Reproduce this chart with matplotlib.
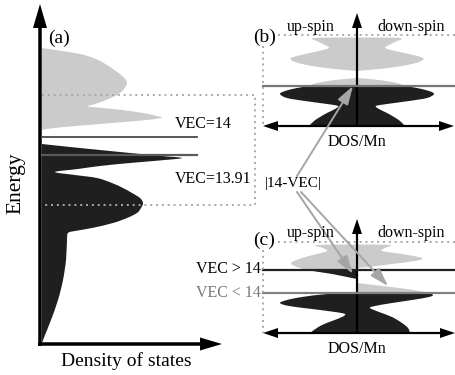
import numpy as np
import matplotlib
matplotlib.use("Agg")
import matplotlib.pyplot as plt
from matplotlib.path import Path
from matplotlib.patches import PathPatch

plt.rcParams["font.family"] = "serif"
plt.rcParams["font.serif"] = ["Liberation Serif", "DejaVu Serif"]

LIGHT = "#cbcbcb"
DARK = "#1f1f1f"
DOT = "#a8a8a8"

# ---- schematic DOS profiles (energy above panel baseline, DOS width) ----
# panel (a): total DOS
a_light_E = [296, 290, 284, 277, 269, 262, 255, 249, 244, 240, 237.5, 236, 234, 231, 228, 226.5, 225, 223, 221, 219, 217, 215, 214]
a_light_D = [0, 38, 56, 68, 79, 85, 82, 75, 64, 53, 46, 61, 80, 101, 115, 120, 113, 94, 70, 46, 22, 5, 0]
a_dark_E = [200, 197, 194, 191, 188, 186, 184, 181, 178, 175, 172, 169, 166, 161, 156, 151, 146, 141, 136, 131,
            126, 121, 116, 113, 111, 104, 84, 64, 44, 24, 9, 1]
a_dark_D = [0, 28, 58, 88, 120, 140, 123, 88, 58, 36, 13, 33, 55, 70, 81, 90, 98, 101, 99, 95,
            85, 71, 50, 33, 26, 25, 24, 21, 16, 9, 3, 0]

# panel (b): spin-resolved, symmetric
b_light_E = [88.5, 88, 84, 81, 78, 75, 72, 68, 64, 60, 57, 55, 48, 46, 43, 40]
b_light_W = [0, 43, 38, 32, 28, 38, 52, 66, 62, 45, 22, 0, 0, 22, 40, 48]
b_dark_E = [40, 38, 35, 32, 28, 25, 22, 20, 17, 13, 9, 5, 0]
b_dark_W = [48, 60, 72, 77, 70, 52, 30, 19, 22, 30, 37, 43, 48]

# panel (c): up-spin (left) and down-spin (right)
c_up_light_E = [88.5, 88, 85, 82, 79, 75, 70, 66, 63]
c_up_light_W = [0, 40, 34, 30, 40, 55, 66, 60, 50]
c_up_dark_E = [63, 61, 59, 56, 54, 41, 39, 36, 33, 30, 27, 24, 21, 19, 16, 12, 7, 0]
c_up_dark_W = [50, 38, 25, 10, 0, 0, 30, 55, 70, 77, 68, 45, 22, 12, 15, 25, 37, 47]
c_dn_light_E = [88.5, 88, 85, 82, 79, 75, 72, 69, 66, 65, 50, 47, 44, 41, 40]
c_dn_light_W = [0, 33, 28, 25, 45, 65, 58, 35, 12, 0, 0, 25, 50, 68, 72]
c_dn_dark_E = [40, 38, 36, 33, 30, 27, 25, 21, 16, 10, 5, 0]
c_dn_dark_W = [72, 76, 72, 55, 35, 18, 13, 22, 35, 45, 51, 53]

# panel origins (axis position in canvas pixels)
ax0, ay0 = 42, 344
bx0, by0 = 357, 126
cx0, cy0 = 357, 333


def draw_profile(ax, x0, y0, E, D, sign, color):
    """Fill a DOS band as a smooth curve through the read points, closed along the energy axis."""
    E = np.asarray(E, float)
    D = np.asarray(D, float)
    # split the band where the DOS stays at zero
    cuts = [i + 1 for i in range(len(D) - 1) if D[i] == 0 and D[i + 1] == 0]
    for idx in np.split(np.arange(len(D)), cuts):
        if len(idx) < 2:
            continue
        P = np.column_stack([x0 + sign * D[idx], y0 - E[idx]])
        n = len(P)
        verts = [P[0]]
        codes = [Path.MOVETO]
        for i in range(n - 1):
            p_prev = P[i - 1] if i > 0 else P[i]
            p_next = P[i + 2] if i + 2 < n else P[i + 1]
            verts += [P[i] + (P[i + 1] - p_prev) / 6, P[i + 1] - (p_next - P[i]) / 6, P[i + 1]]
            codes += [Path.CURVE4] * 3
        verts += [(x0, P[-1, 1]), (x0, P[0, 1]), P[0]]
        codes += [Path.LINETO, Path.LINETO, Path.CLOSEPOLY]
        ax.add_patch(PathPatch(Path(verts, codes), fc=color, lw=0))


def axis_arrow(ax, x, y, dx, dy, width=2.2, hw=10, hl=15):
    ax.arrow(x, y, dx, dy, width=width, head_width=hw, head_length=hl,
             length_includes_head=True, color="black", lw=0)


def main():
    fig = plt.figure(figsize=(4.56, 3.75), dpi=100)
    ax = fig.add_axes([0, 0, 1, 1])
    ax.set_xlim(0, 456)
    ax.set_ylim(375, 0)
    ax.axis("off")

    # ---------------- panel (a) ----------------
    draw_profile(ax, ax0, ay0, a_light_E, a_light_D, 1, LIGHT)
    draw_profile(ax, ax0, ay0, a_dark_E, a_dark_D, 1, DARK)

    ax.plot([ax0, 197], [137, 137], color="#4a4a4a", lw=1.3)
    ax.plot([ax0, 197], [155, 155], color="#5a5a5a", lw=1.6)
    ax.plot([ax0, 255, 255, ax0], [95, 95, 205, 205], color=DOT, lw=1.4, ls=(0, (1, 2)))

    axis_arrow(ax, 40, 346, 0, -342, width=3.5, hw=14, hl=24)
    axis_arrow(ax, 38, 344, 184, 0, width=3.5, hw=13, hl=22)

    ax.text(59, 38, "(a)", fontsize=14, ha="center", va="center")
    ax.text(16, 183, "Energy", fontsize=15.5, rotation=90, ha="center", va="center")
    ax.text(126, 361, "Density of states", fontsize=14, ha="center", va="center")
    ax.text(175, 124, "VEC=14", fontsize=11.5, ha="left", va="center")
    ax.text(175, 179, "VEC=13.91", fontsize=11.5, ha="left", va="center")

    # ---------------- panel (b) ----------------
    for sign in (1, -1):
        draw_profile(ax, bx0, by0, b_light_E, b_light_W, sign, LIGHT)
        draw_profile(ax, bx0, by0, b_dark_E, b_dark_W, sign, DARK)

    ax.plot([263, 456], [86, 86], color="#777777", lw=1.6)
    ax.plot([278, 456], [35, 35], color=DOT, lw=1.4, ls=(0, (1, 2)))
    ax.plot([263, 263], [46, 126], color=DOT, lw=1.4, ls=(0, (1, 2)))

    axis_arrow(ax, bx0, by0 + 1, 0, -114)
    axis_arrow(ax, bx0, by0, -94, 0)
    axis_arrow(ax, bx0, by0, 97, 0)

    ax.text(265, 37, "(b)", fontsize=14, ha="center", va="center")
    ax.text(311, 27, "up-spin", fontsize=11.5, ha="center", va="center")
    ax.text(411, 27, "down-spin", fontsize=11.5, ha="center", va="center")
    ax.text(bx0, 142, "DOS/Mn", fontsize=11.5, ha="center", va="center")

    # ---------------- panel (c) ----------------
    draw_profile(ax, cx0, cy0, c_up_light_E, c_up_light_W, -1, LIGHT)
    draw_profile(ax, cx0, cy0, c_up_dark_E, c_up_dark_W, -1, DARK)
    draw_profile(ax, cx0, cy0, c_dn_light_E, c_dn_light_W, 1, LIGHT)
    draw_profile(ax, cx0, cy0, c_dn_dark_E, c_dn_dark_W, 1, DARK)

    ax.plot([263, 456], [270, 270], color="#222222", lw=1.6)
    ax.plot([263, 456], [293, 293], color="#808080", lw=1.6)
    ax.plot([278, 456], [242, 242], color=DOT, lw=1.4, ls=(0, (1, 2)))
    ax.plot([263, 263], [250, 333], color=DOT, lw=1.4, ls=(0, (1, 2)))

    # |14-VEC| arrows
    for x1, y1, x2, y2 in [(297, 176, 353, 86), (297, 192, 353, 274), (301, 192, 388, 286)]:
        ax.annotate("", xy=(x2, y2), xytext=(x1, y1),
                    arrowprops=dict(arrowstyle="-|>,head_length=0.8,head_width=0.25",
                                    color="#a5a5a5", lw=1.4, shrinkA=0, shrinkB=0,
                                    mutation_scale=14))

    axis_arrow(ax, cx0, cy0 + 1, 0, -115)
    axis_arrow(ax, cx0, cy0, -94, 0)
    axis_arrow(ax, cx0, cy0, 98, 0)

    ax.text(264, 240, "(c)", fontsize=14, ha="center", va="center")
    ax.text(311, 233, "up-spin", fontsize=11.5, ha="center", va="center")
    ax.text(411, 233, "down-spin", fontsize=11.5, ha="center", va="center")
    ax.text(cx0, 349, "DOS/Mn", fontsize=11.5, ha="center", va="center")
    ax.text(293, 183, "|14-VEC|", fontsize=11, ha="center", va="center")
    ax.text(261, 269, "VEC > 14", fontsize=11.5, ha="right", va="center")
    ax.text(261, 293, "VEC < 14", fontsize=11.5, ha="right", va="center", color="#777777")

    fig.savefig("out.png", dpi=100)


if __name__ == "__main__":
    main()
